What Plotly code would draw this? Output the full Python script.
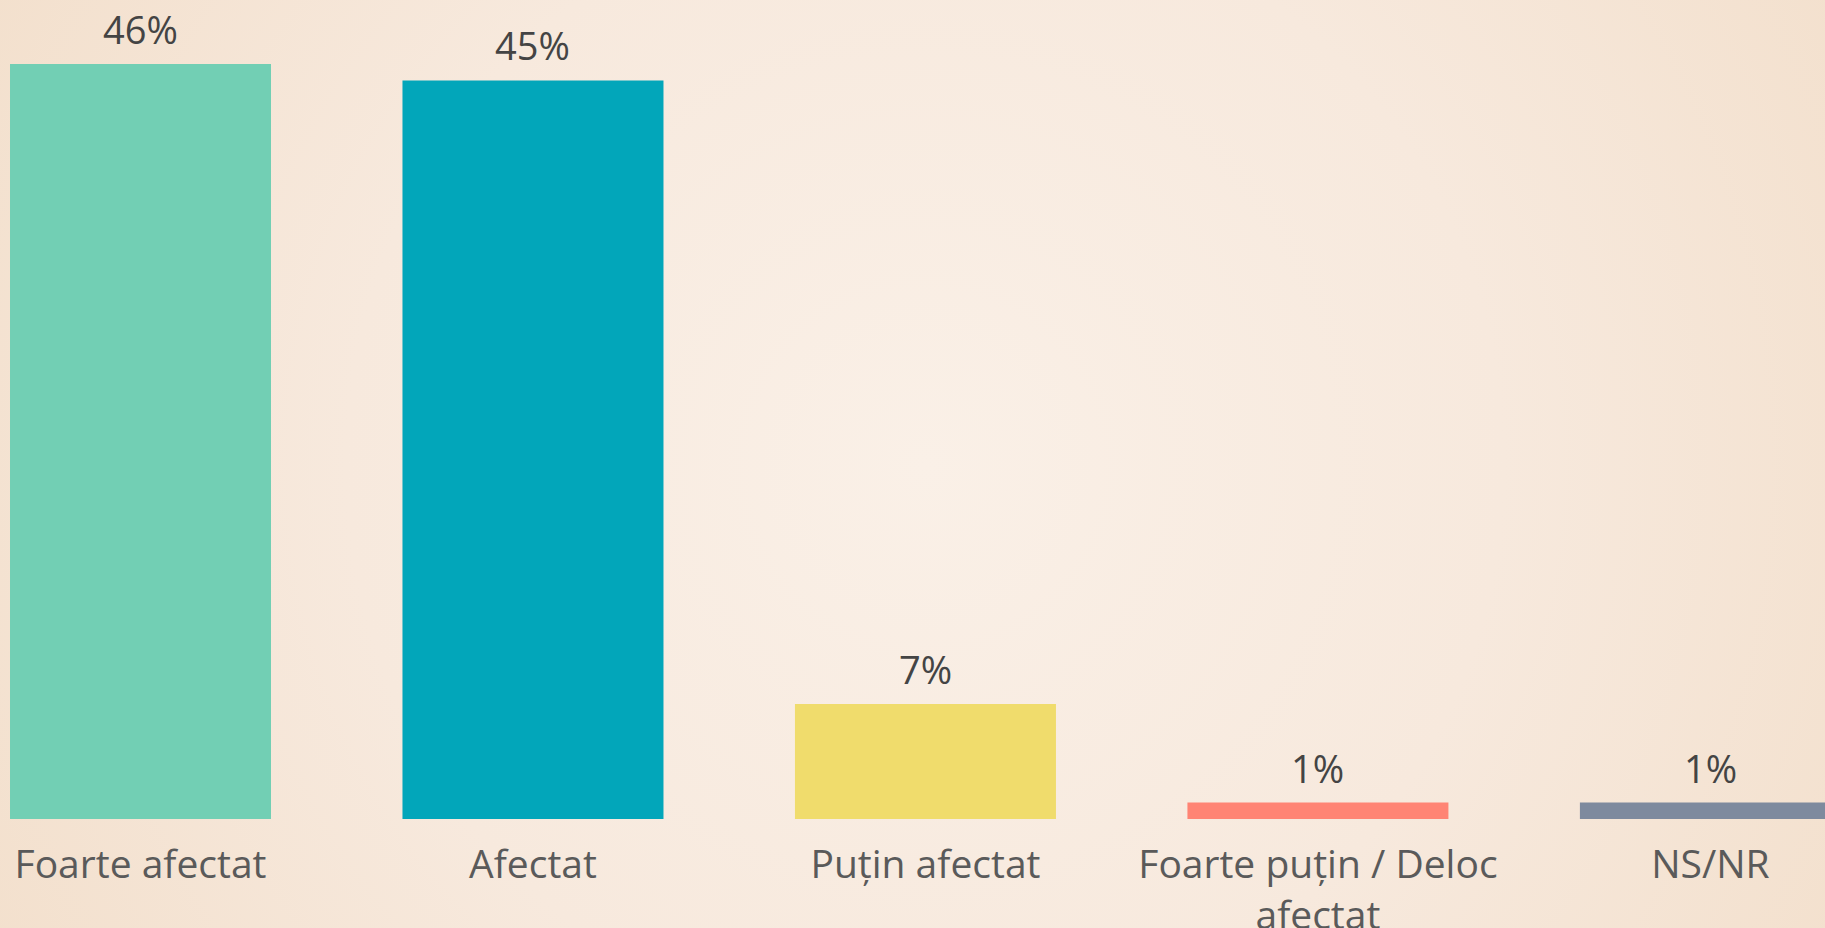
import base64
import plotly.graph_objects as go

categories = ["Foarte afectat", "Afectat", "Puțin afectat", "Foarte puțin / Deloc<br>afectat", "NS/NR"]
values = [46, 45, 7, 1, 1]
labels = ["46%", "45%", "7%", "1%", "1%"]
colors = ["#72CFB4", "#02A6BA", "#F0DC6C", "#FF8474", "#7E8A9E"]

W, H = 1825, 928
svg = f'''<svg xmlns="http://www.w3.org/2000/svg" width="{W}" height="{H}" viewBox="0 0 {W} {H}">
<defs><radialGradient id="g" cx="925" cy="465" r="1050" gradientUnits="userSpaceOnUse">
<stop offset="0" stop-color="#FAF0E7"/><stop offset="0.55" stop-color="#F7E9DD"/><stop offset="1" stop-color="#F3E0CD"/>
</radialGradient></defs><rect width="{W}" height="{H}" fill="url(#g)"/></svg>'''
src = "data:image/svg+xml;base64," + base64.b64encode(svg.encode()).decode()

FONT = "Open Sans"

fig = go.Figure()
fig.add_trace(go.Bar(
    x=categories, y=values, marker=dict(color=colors, line=dict(width=0)),
    hoverinfo="skip",
))
for c, v, t in zip(categories, values, labels):
    fig.add_annotation(x=c, y=v, text=t, showarrow=False, yanchor="bottom",
                       yshift=7, font=dict(family=FONT, size=38, color="#444444"))

T, B = 0, 109
fig.update_layout(
    width=W, height=H,
    margin=dict(l=0, r=0, t=T, b=B, pad=0, autoexpand=False),
    paper_bgcolor="#F7E9DD", plot_bgcolor="rgba(0,0,0,0)",
    bargap=0.335, showlegend=False,
    images=[dict(source=src, xref="paper", yref="paper", x=0, y=1,
                 sizex=1, sizey=H / (H - B - T), sizing="stretch", layer="below")],
    xaxis=dict(range=[-0.358, 4.292], showgrid=False, zeroline=False, showline=False,
               ticks="", ticklabelstandoff=19, automargin=False,
               tickfont=dict(family=FONT, size=39, color="#5A5A5A")),
    yaxis=dict(range=[0, 49.9], visible=False, showgrid=False, zeroline=False, automargin=False),
)
fig.write_html("out.html", config={"displayModeBar": False},
               post_script="document.body.style.margin='0';document.body.style.padding='0';document.body.style.overflow='hidden';")
